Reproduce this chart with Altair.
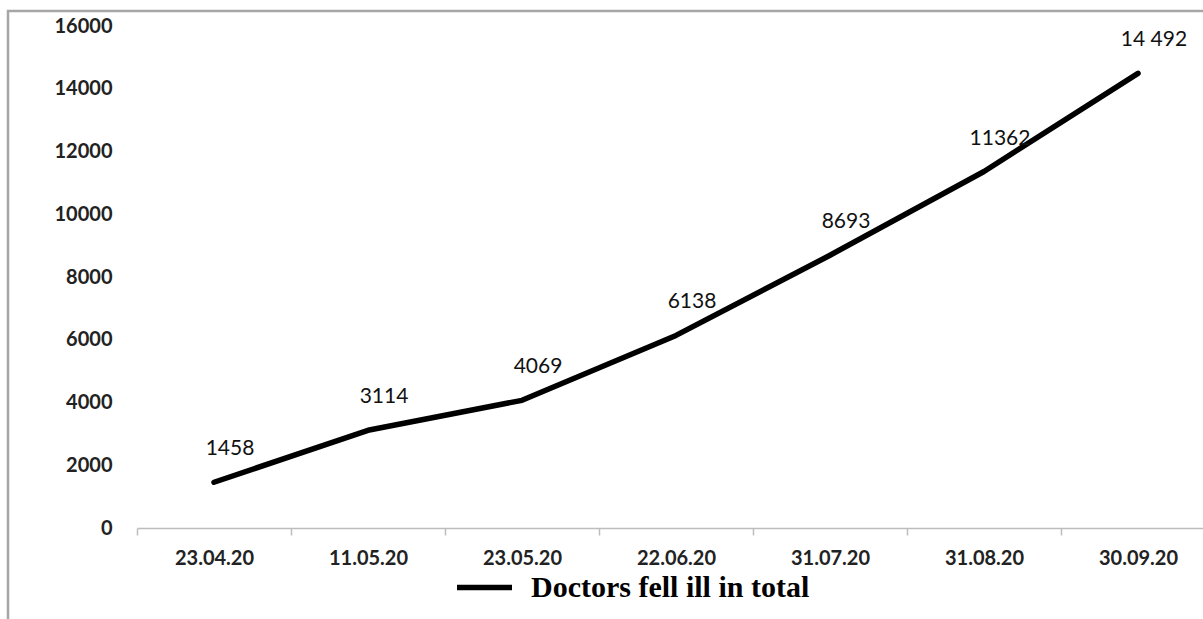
import altair as alt
import pandas as pd

dates = ["23.04.20", "11.05.20", "23.05.20", "22.06.20", "31.07.20", "31.08.20", "30.09.20"]
values = [1458, 3114, 4069, 6138, 8693, 11362, 14492]
labels = ["1458", "3114", "4069", "6138", "8693", "11362", "14 492"]
series = "Doctors fell ill in total"

df = pd.DataFrame({"date": dates, "value": values, "label": labels, "series": series})

W, H = 1066, 502

xscale = alt.Scale(type="band", domain=dates, range=[0, 1078], paddingInner=0, paddingOuter=0)
yscale = alt.Scale(domain=[0, 16000], nice=False)

x = alt.X("date:N", scale=xscale, sort=dates, bandPosition=0.5,
          axis=alt.Axis(title=None, labelAngle=0, tickBand="extent", grid=False,
                        domainColor="#bdbdbd", tickColor="#bdbdbd", tickSize=7,
                        domainWidth=1.5, tickWidth=1.5,
                        labelFont="Lato", labelFontWeight="bold", labelFontSize=20,
                        labelColor="#222222", labelPadding=13))
y = alt.Y("value:Q", scale=yscale,
          axis=alt.Axis(title=None, values=list(range(0, 16001, 2000)), format="d", grid=False,
                        domain=False, ticks=False, labelFont="Lato", labelFontWeight="bold",
                        labelFontSize=20, labelColor="#222222", labelPadding=25))

line = alt.Chart(df).mark_line(strokeWidth=5.5, strokeCap="round", strokeJoin="round").encode(
    x=x, y=y,
    color=alt.Color("series:N", scale=alt.Scale(range=["#000000"]),
                    legend=alt.Legend(title=None, orient="none", legendX=317, legendY=531,
                                      symbolType="stroke", symbolSize=3025, symbolStrokeWidth=5.5,
                                      labelFont="Liberation Serif", labelFontWeight="bold",
                                      labelFontSize=30, labelColor="#000000", labelLimit=700,
                                      labelOffset=16)),
)

text = alt.Chart(df).mark_text(font="Lato", fontSize=21, color="#111111", dx=16, dy=-33).encode(
    x=alt.X("date:N", scale=xscale, sort=dates, bandPosition=0.5),
    y=alt.Y("value:Q", scale=yscale),
    text="label:N",
)

frame = alt.Chart(alt.Data(values=[{}])).mark_rect(fill=None, stroke="#a6a6a6", strokeWidth=2.5).encode(
    x=alt.value(-129), x2=alt.value(1300), y=alt.value(-15), y2=alt.value(800)
)

chart = alt.layer(frame, line, text).properties(
    width=W, height=H,
    autosize=alt.AutoSizeParams(type="none"),
    padding={"left": 137, "top": 26, "right": 0, "bottom": 91},
    background="white",
).configure_view(stroke=None)

chart.save("out.html", embed_options={"renderer": "svg", "actions": False})
